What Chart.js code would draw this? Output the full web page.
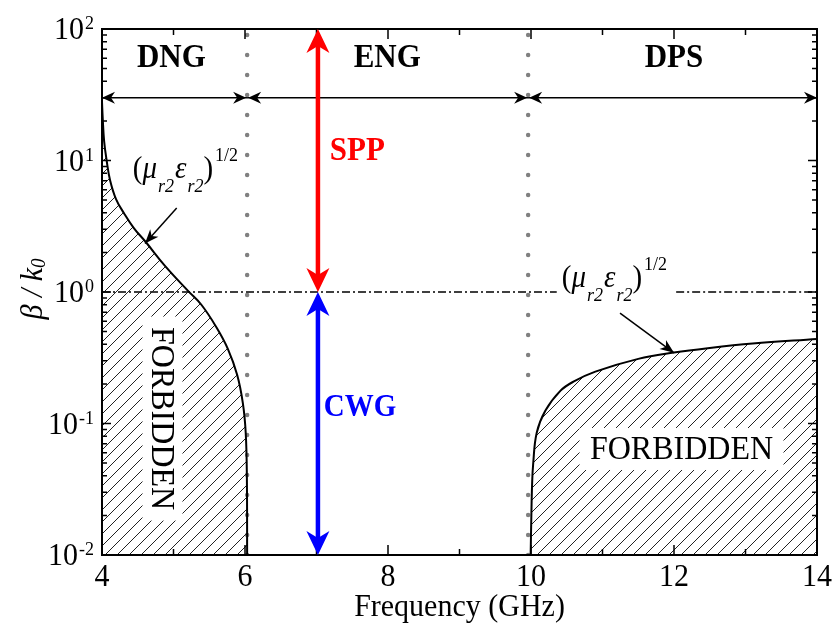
<!DOCTYPE html>
<html>
<head>
<meta charset="utf-8">
<script src="https://cdn.jsdelivr.net/npm/chart.js@4.4.0/dist/chart.umd.min.js"></script>
<style>
  html, body { margin: 0; padding: 0; background: #fff; }
</style>
</head>
<body>
<canvas id="chart" width="838" height="639"></canvas>
<script>
// (mu_r2 eps_r2)^1/2 branch below ~6 GHz (DNG side)
const dngFreq = [4.0, 4.01, 4.03, 4.065, 4.112, 4.196, 4.308, 4.448, 4.615, 4.881, 5.203, 5.39, 5.6, 5.76, 5.89, 5.97, 6.01, 6.026, 6.03];
const dngBeta = [28, 21, 14, 10, 7.11, 5.09, 3.97, 3.05, 2.39, 1.58, 1.02, 0.8, 0.54, 0.37, 0.235, 0.143, 0.085, 0.04, 0.01];
// (mu_r2 eps_r2)^1/2 branch above 10 GHz (DPS side)
const dpsFreq = [9.995, 10.005, 10.015, 10.03, 10.08, 10.2, 10.41, 10.6, 10.9, 11.5, 12.0, 12.5, 13.1, 14];
const dpsBeta = [0.01, 0.02, 0.034, 0.049, 0.085, 0.125, 0.177, 0.209, 0.248, 0.31, 0.346, 0.375, 0.405, 0.44];

// axes
const freqTicks = [4, 5, 6, 7, 8, 9, 10, 11, 12, 13, 14];
const freqLabels = [4, 6, 8, 10, 12, 14];
const betaDecades = [0.01, 0.1, 1, 10, 100];
const betaExp = ['-2', '-1', '0', '1', '2'];

// band edges and names
const bandEdges = [4, 6.03, 9.96, 14];
const bandNames = ['DNG', 'ENG', 'DPS'];
const bandNameX = [4.97, 7.99, 12.0];
const bandNameY = 60;
const bandArrowY = 30;

// light line (beta = k0) drawn dash-dot, broken around its label
const lightLevel = 1;
const lightSegs = [[4, 10.36], [12.03, 14]];

// mode arrows
const modeX = 7.02;
const sppRange = [100, 1];
const cwgRange = [1, 0.01];
const sppLabel = [7.57, 11.8];
const cwgLabel = [7.61, 0.131];

// annotations
const forbidLeft = [4.846, 0.109];
const forbidRight = [12.105, 0.064];
const muLabelLeft = [4.43, 7.36];
const muLabelRight = [10.43, 1.09];
const leaderLeft = [[5.045, 4.36], [4.601, 2.34]];
const leaderRight = [[11.245, 0.692], [12.0, 0.345]];

const SERIF = "'Liberation Serif', 'Times New Roman', serif";
const SY = 1.08; // glyphs in the figure are a bit taller than Times

const toXY = (xs, ys) => xs.map((v, i) => ({ x: v, y: ys[i] }));

function makeHatch(ctx) {
  const s = 12;
  const c = document.createElement('canvas');
  c.width = s; c.height = s;
  const g = c.getContext('2d');
  g.strokeStyle = '#222';
  g.lineWidth = 1;
  g.beginPath();
  g.moveTo(0, s); g.lineTo(s, 0);
  g.moveTo(-s / 2, s / 2); g.lineTo(s / 2, -s / 2);
  g.moveTo(s / 2, s * 1.5); g.lineTo(s * 1.5, s / 2);
  g.stroke();
  return ctx.createPattern(c, 'repeat');
}

function head(ctx, tx, ty, fx, fy, len, hw, notch, color) {
  const ang = Math.atan2(ty - fy, tx - fx);
  ctx.save();
  ctx.translate(tx, ty);
  ctx.rotate(ang);
  ctx.beginPath();
  ctx.moveTo(0, 0);
  ctx.lineTo(-len, -hw);
  ctx.lineTo(-len + notch, 0);
  ctx.lineTo(-len, hw);
  ctx.closePath();
  ctx.fillStyle = color;
  ctx.fill();
  ctx.restore();
}

// text drawn slightly stretched vertically
function stext(ctx, s, x, y) {
  ctx.save();
  ctx.translate(x, y);
  ctx.scale(1, SY);
  ctx.fillText(s, 0, 0);
  ctx.restore();
}

function rich(ctx, x, y, parts) {
  let cx = x;
  for (const p of parts) {
    ctx.font = p.f;
    stext(ctx, p.t, cx + (p.dx || 0), y + (p.dy || 0));
    cx += ctx.measureText(p.t).width + (p.dx || 0);
  }
  return cx - x;
}

function muParts() {
  const big = '29px ' + SERIF, bigI = 'italic 29px ' + SERIF;
  const sub = 'italic 18px ' + SERIF, sup = '18px ' + SERIF;
  return [
    { t: '(', f: big },
    { t: 'μ', f: bigI },
    { t: 'r2', f: sub, dy: 14, dx: 1 },
    { t: 'ε', f: bigI, dx: 1 },
    { t: 'r2', f: sub, dy: 14, dx: 1 },
    { t: ')', f: big },
    { t: '1/2', f: sup, dy: -17, dx: 2 }
  ];
}

const deco = {
  id: 'deco',
  afterDatasetsDraw(chart) {
    const { ctx, chartArea: a, scales: { x, y } } = chart;
    const X = v => x.getPixelForValue(v);
    const Y = v => y.getPixelForValue(v);
    ctx.save();

    // white boxes behind FORBIDDEN labels
    ctx.fillStyle = '#fff';
    ctx.fillRect(X(forbidLeft[0]) - 20, Y(forbidLeft[1]) - 102, 40, 204);
    ctx.fillRect(X(forbidRight[0]) - 102, Y(forbidRight[1]) - 21, 204, 42);

    ctx.fillStyle = '#000';
    ctx.textBaseline = 'middle';
    ctx.textAlign = 'center';
    ctx.font = '32px ' + SERIF;
    stext(ctx, 'FORBIDDEN', X(forbidRight[0]), Y(forbidRight[1]) + 1);
    ctx.save();
    ctx.translate(X(forbidLeft[0]), Y(forbidLeft[1]));
    ctx.rotate(Math.PI / 2);
    stext(ctx, 'FORBIDDEN', 0, 1);
    ctx.restore();

    // frame
    ctx.strokeStyle = '#000';
    ctx.lineWidth = 2;
    ctx.strokeRect(a.left, a.top, a.width, a.height);

    // ticks (inside, on all four sides)
    ctx.lineWidth = 1.5;
    ctx.beginPath();
    freqTicks.forEach(v => {
      if (v === 4 || v === 14) return;
      const px = X(v), len = v % 2 === 0 ? 10 : 6;
      ctx.moveTo(px, a.bottom); ctx.lineTo(px, a.bottom - len);
      ctx.moveTo(px, a.top); ctx.lineTo(px, a.top + len);
    });
    betaDecades.forEach((d, i) => {
      if (i > 0 && i < betaDecades.length - 1) {
        const py = Y(d);
        ctx.moveTo(a.left, py); ctx.lineTo(a.left + 9, py);
        ctx.moveTo(a.right, py); ctx.lineTo(a.right - 9, py);
      }
      if (i < betaDecades.length - 1) {
        for (let m = 2; m <= 9; m++) {
          const py = Y(d * m);
          ctx.moveTo(a.left, py); ctx.lineTo(a.left + 5, py);
          ctx.moveTo(a.right, py); ctx.lineTo(a.right - 5, py);
        }
      }
    });
    ctx.stroke();

    // x tick labels and title
    ctx.fillStyle = '#000';
    ctx.textAlign = 'center';
    ctx.textBaseline = 'middle';
    ctx.font = '30px ' + SERIF;
    freqLabels.forEach(v => stext(ctx, String(v), X(v), a.bottom + 22));
    ctx.font = '30px ' + SERIF;
    stext(ctx, 'Frequency (GHz)', (a.left + a.right) / 2, a.bottom + 52);

    // y tick labels 10^n
    betaDecades.forEach((d, i) => {
      const py = Y(d);
      const right = a.left - 8;
      ctx.font = '18px ' + SERIF;
      ctx.textAlign = 'right';
      ctx.textBaseline = 'alphabetic';
      const ew = ctx.measureText(betaExp[i]).width;
      stext(ctx, betaExp[i], right, py);
      ctx.font = '30px ' + SERIF;
      ctx.textBaseline = 'middle';
      stext(ctx, '10', right - ew - 1, py + 1.5);
    });

    // y title: beta / k0
    ctx.save();
    ctx.translate(33, (a.top + a.bottom) / 2 - 3);
    ctx.rotate(-Math.PI / 2);
    ctx.textAlign = 'left';
    ctx.textBaseline = 'middle';
    ctx.font = 'italic 30px ' + SERIF;
    const w1 = ctx.measureText('β / k').width;
    ctx.font = 'italic 19px ' + SERIF;
    const w2 = ctx.measureText('0').width;
    rich(ctx, -(w1 + w2) / 2, 0, [
      { t: 'β / k', f: 'italic 30px ' + SERIF },
      { t: '0', f: 'italic 19px ' + SERIF, dy: 7 }
    ]);
    ctx.restore();

    // band names
    ctx.textAlign = 'center';
    ctx.textBaseline = 'middle';
    ctx.font = 'bold 31px ' + SERIF;
    bandNames.forEach((n, i) => stext(ctx, n, X(bandNameX[i]), Y(bandNameY)));

    // band arrow heads
    const ay = Y(bandArrowY);
    for (let i = 0; i < bandEdges.length - 1; i++) {
      const l = X(bandEdges[i]), r = X(bandEdges[i + 1]);
      head(ctx, l + (i ? 1 : 0), ay, r, ay, 13, 6, 4, '#000');
      head(ctx, r - (i < bandEdges.length - 2 ? 1 : 0), ay, l, ay, 13, 6, 4, '#000');
    }

    // SPP and CWG arrows
    const mx = X(modeX);
    [[sppRange, '#ff0000'], [cwgRange, '#0000ff']].forEach(([rg, col]) => {
      const y1 = Y(rg[0]), y2 = Y(rg[1]);
      ctx.strokeStyle = col;
      ctx.lineWidth = 4.5;
      ctx.beginPath();
      ctx.moveTo(mx, y1 + 16);
      ctx.lineTo(mx, y2 - 16);
      ctx.stroke();
      head(ctx, mx, y1, mx, y2, 24, 11.5, 7, col);
      head(ctx, mx, y2, mx, y1, 24, 11.5, 7, col);
    });
    ctx.font = 'bold 31px ' + SERIF;
    ctx.fillStyle = '#ff0000';
    stext(ctx, 'SPP', X(sppLabel[0]), Y(sppLabel[1]));
    ctx.font = 'bold 29px ' + SERIF;
    ctx.fillStyle = '#0000ff';
    stext(ctx, 'CWG', X(cwgLabel[0]), Y(cwgLabel[1]));

    // (mu eps)^1/2 labels and leader heads
    ctx.fillStyle = '#000';
    ctx.textAlign = 'left';
    ctx.textBaseline = 'alphabetic';
    rich(ctx, X(muLabelLeft[0]), Y(muLabelLeft[1]), muParts());
    rich(ctx, X(muLabelRight[0]), Y(muLabelRight[1]), muParts());
    [leaderLeft, leaderRight].forEach(([p, q]) => {
      head(ctx, X(q[0]), Y(q[1]), X(p[0]), Y(p[1]), 14, 5.5, 4, '#000');
    });

    ctx.restore();
  }
};

const ctx = document.getElementById('chart').getContext('2d');
const hatch = makeHatch(ctx);

const lightData = [];
lightSegs.forEach((s, i) => {
  if (i) lightData.push({ x: (lightSegs[i - 1][1] + s[0]) / 2, y: null });
  lightData.push({ x: s[0], y: lightLevel }, { x: s[1], y: lightLevel });
});

const chart = new Chart(ctx, {
  type: 'line',
  data: {
    datasets: [
      {
        label: 'DNG bound',
        data: toXY(dngFreq, dngBeta),
        borderColor: '#000',
        borderWidth: 2,
        backgroundColor: hatch,
        fill: 'start',
        pointRadius: 0,
        tension: 0.4
      },
      {
        label: 'DPS bound',
        data: toXY(dpsFreq, dpsBeta),
        borderColor: '#000',
        borderWidth: 2,
        backgroundColor: hatch,
        fill: 'start',
        pointRadius: 0,
        tension: 0.4
      },
      {
        label: 'light line',
        data: lightData,
        borderColor: '#000',
        borderWidth: 1.3,
        borderDash: [8, 3, 2, 3],
        pointRadius: 0,
        fill: false
      },
      {
        label: 'band edges',
        data: [
          { x: bandEdges[1], y: betaDecades[0] }, { x: bandEdges[1], y: betaDecades[4] },
          { x: bandEdges[1] + 0.5, y: null },
          { x: bandEdges[2], y: betaDecades[0] }, { x: bandEdges[2], y: betaDecades[4] }
        ],
        borderColor: '#808080',
        borderWidth: 4.5,
        borderDash: [0, 20],
        borderCapStyle: 'round',
        pointRadius: 0,
        fill: false
      },
      {
        label: 'band arrows',
        data: [{ x: bandEdges[0], y: bandArrowY }, { x: bandEdges[3], y: bandArrowY }],
        borderColor: '#000',
        borderWidth: 1.5,
        pointRadius: 0,
        fill: false
      },
      {
        label: 'leader left',
        data: leaderLeft.map(p => ({ x: p[0], y: p[1] })),
        borderColor: '#000',
        borderWidth: 1.5,
        pointRadius: 0,
        fill: false
      },
      {
        label: 'leader right',
        data: leaderRight.map(p => ({ x: p[0], y: p[1] })),
        borderColor: '#000',
        borderWidth: 1.5,
        pointRadius: 0,
        fill: false
      }
    ]
  },
  options: {
    responsive: false,
    devicePixelRatio: 1,
    animation: false,
    layout: { padding: { left: 102, right: 21, top: 29, bottom: 84 } },
    plugins: {
      legend: { display: false },
      tooltip: { enabled: false }
    },
    scales: {
      x: { type: 'linear', min: 4, max: 14, display: false },
      y: { type: 'logarithmic', min: 0.01, max: 100, display: false }
    }
  },
  plugins: [deco]
});
</script>
</body>
</html>
